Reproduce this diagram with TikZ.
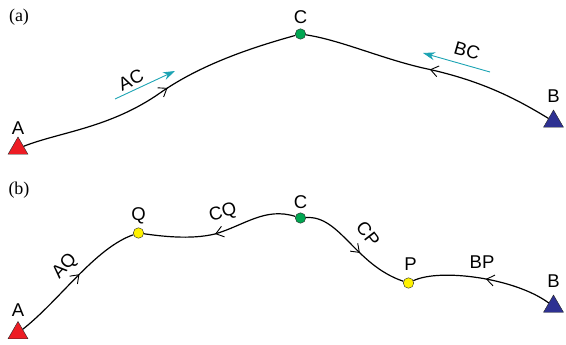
\documentclass[tikz,border=0pt]{standalone}
\usepackage{fontspec}
\setmainfont{Liberation Sans}
\newfontfamily\panelfont{Liberation Serif}
\usetikzlibrary{shapes.geometric,% triangles for the two ends
arrows.meta,%                open barbs and the drift arrows
decorations.markings}%       barbs in the middle of the tracks
\definecolor{ptred}{HTML}{ED1C24}
\definecolor{ptblue}{HTML}{2E3192}
\definecolor{ptgreen}{HTML}{00A651}
\definecolor{ptyellow}{HTML}{FFF200}
\definecolor{ptcyan}{HTML}{1BA3B3}
\tikzset{every node/.style={font=\fontsize{18.5}{20}\selectfont}}
\tikzset{
  station/.style={regular polygon,regular polygon sides=3,minimum size=23pt,
    inner sep=0pt,draw=black!85,line width=0.4pt},
  site/.style={circle,minimum size=10.5pt,inner sep=0pt,draw=black!85,line width=0.4pt},
  tag/.style={inner sep=0pt},
  panel/.style={inner sep=0pt,font=\panelfont\fontsize{18}{20}\selectfont},
  track/.style={line width=1.2pt,postaction={decorate},
    decoration={markings,mark=at position #1 with
      {\arrow{Straight Barb[length=7.5pt,width=11pt,line width=0.9pt]}}}},
  drift/.style={ptcyan,line width=0.9pt,-{Stealth[length=12pt,width=8pt]}}
}

\begin{document}
\begin{tikzpicture}[x=1pt,y=-1pt]
  \useasboundingbox (0,0) rectangle (566,345);
  % (a)
  \node[panel] (pa) at (19,17.5) {(a)};
  \node[station,fill=ptred,label={[tag,label distance=2pt]above:A}] (A1) at (18,148.5) {};
  \node[station,fill=ptblue,label={[tag,label distance=7pt]above:B}] (B1) at (553.5,121.5) {};
  \node[site,fill=ptgreen,label={[tag,label distance=5pt]above:C}] (C1) at (300.5,34) {};
  \draw[track=0.53] (A1) .. controls (60,132) and (110,128) .. (160,93)
    .. controls (200,65) and (250,48) .. (C1);
  \draw[track=0.5] (B1) .. controls (515,98) and (480,80) .. (423,68)
    .. controls (380,58) and (340,40) .. (C1);
  \coordinate (ac0) at (115,99);
  \coordinate (ac1) at (175,71);
  \draw[drift] (ac0) -- (ac1);
  \node[tag,rotate=25] (lAC) at (131,80) {AC};
  \coordinate (bc0) at (490,72);
  \coordinate (bc1) at (423,53);
  \draw[drift] (bc0) -- (bc1);
  \node[tag,rotate=-16] (lBC) at (467,51) {BC};
  % (b)
  \node[panel] (pb) at (19,190) {(b)};
  \node[station,fill=ptred,label={[tag,label distance=4pt]above:A}] (A2) at (18,333) {};
  \node[station,fill=ptblue,label={[tag,label distance=7pt]above:B}] (B2) at (553.5,306.5) {};
  \node[site,fill=ptgreen,label={[tag,label distance=4pt]above:C}] (C2) at (300.5,218) {};
  \node[site,fill=ptyellow,label={[tag,label distance=3pt]above:Q}] (Q) at (138.5,233) {};
  \node[site,fill=ptyellow,label={[tag,label distance=7pt,xshift=2pt]above:P}] (P) at (408.5,283) {};
  \draw[track=0.54] (A2) .. controls (60,300) and (95,248) .. (Q);
  \draw[track=0.54] (C2) .. controls (265,207) and (245,225) .. (215,234)
    .. controls (190,240) and (160,236) .. (Q);
  \draw[track=0.56] (C2) .. controls (340,215) and (355,265) .. (P);
  \draw[track=0.48] (B2) .. controls (515,278) and (440,268) .. (P);
  \node[tag,rotate=47] (lAQ) at (65,267) {AQ};
  \node[tag,rotate=15] (lCQ) at (223,213) {CQ};
  \node[tag,rotate=-52] (lCP) at (368,234) {CP};
  \node[tag] (lBP) at (482,262) {BP};
\end{tikzpicture}
\end{document}
